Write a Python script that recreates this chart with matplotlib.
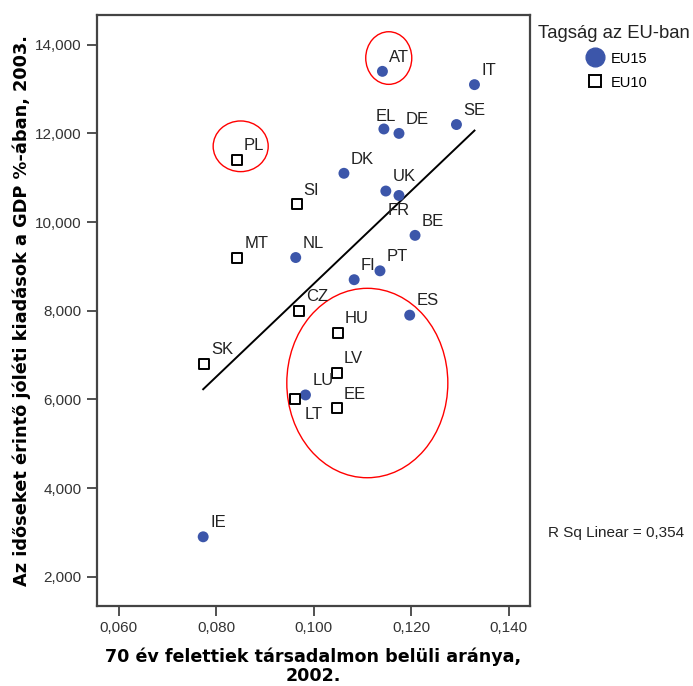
import matplotlib
matplotlib.use("Agg")
import matplotlib.pyplot as plt
from matplotlib.patches import Ellipse
from matplotlib.lines import Line2D
from matplotlib.ticker import FixedLocator, FuncFormatter
import numpy as np

# ---- data ----
eu15_codes = ["AT", "IT", "EL", "DE", "SE", "DK", "UK", "FR", "BE", "NL", "PT", "FI", "ES", "LU", "IE"]
eu15_x = [0.1141, 0.1330, 0.1144, 0.1175, 0.1293, 0.1062, 0.1148, 0.1175, 0.1208, 0.0963, 0.1136, 0.1083, 0.1197, 0.0983, 0.0773]
eu15_y = [13.4, 13.1, 12.1, 12.0, 12.2, 11.1, 10.7, 10.6, 9.7, 9.2, 8.9, 8.7, 7.9, 6.1, 2.9]

eu10_codes = ["PL", "SI", "MT", "CZ", "HU", "SK", "LV", "LT", "EE"]
eu10_x = [0.0842, 0.0965, 0.0843, 0.0970, 0.1049, 0.0775, 0.1047, 0.0962, 0.1047]
eu10_y = [11.4, 10.4, 9.2, 8.0, 7.5, 6.8, 6.6, 6.0, 5.8]

x_ticks = [0.060, 0.080, 0.100, 0.120, 0.140]
y_ticks = [2.0, 4.0, 6.0, 8.0, 10.0, 12.0, 14.0]

# annotation ellipses (center x, center y, width, height)
ell_cx = [0.1154, 0.0850, 0.1110]
ell_cy = [13.70, 11.709, 6.369]
ell_w = [0.00945, 0.0113, 0.03306]
ell_h = [1.187, 1.143, 4.273]

r2_text = "R Sq Linear = 0,354"

# ---- figure ----
fig = plt.figure(figsize=(6.93, 6.86), dpi=100)
ax = fig.add_axes([97/693, 80/686, 433/693, 591/686])

blue = "#3C56AA"
ax.scatter(eu15_x, eu15_y, s=62, color=blue, edgecolors="none", zorder=3)
ax.scatter(eu10_x, eu10_y, s=62, marker="s", facecolors="white",
           edgecolors="black", linewidths=1.4, zorder=3)

# regression line
all_x = np.array(eu15_x + eu10_x)
all_y = np.array(eu15_y + eu10_y)
b, a = np.polyfit(all_x, all_y, 1)
xl = np.array([all_x.min(), all_x.max()])
ax.plot(xl, a + b * xl, color="black", lw=1.4, zorder=2)

# point labels
special = {"FR": ((-8, -5.5), "top"), "LT": ((6.5, -5.5), "top"), "EL": ((-5.8, 6.0), "baseline")}
for codes, xs, ys in [(eu15_codes, eu15_x, eu15_y), (eu10_codes, eu10_x, eu10_y)]:
    for c, x, y in zip(codes, xs, ys):
        off, va = special.get(c, ((5, 7), "baseline"))
        ax.annotate(c, (x, y), xytext=off, textcoords="offset points",
                    ha="left", va=va, fontsize=12, family="Liberation Sans",
                    color="#222222", zorder=4)

for cx, cy, w, h in zip(ell_cx, ell_cy, ell_w, ell_h):
    ax.add_patch(Ellipse((cx, cy), w, h, fill=False, edgecolor="red", lw=1.0, zorder=2))

ax.set_xlim(0.0555, 0.1444)
ax.set_ylim(1.339, 14.671)
ax.xaxis.set_major_locator(FixedLocator(x_ticks))
ax.yaxis.set_major_locator(FixedLocator(y_ticks))
fmt = FuncFormatter(lambda v, p: f"{v:,.3f}".replace(".", ","))
ax.xaxis.set_major_formatter(fmt)
ax.yaxis.set_major_formatter(fmt)
for lab in ax.get_xticklabels() + ax.get_yticklabels():
    lab.set_family("Liberation Sans")
    lab.set_fontsize(11)
    lab.set_color("#333333")
ax.tick_params(direction="out", length=7, width=1.2, color="#333333", pad=4)

for sp in ax.spines.values():
    sp.set_linewidth(1.6)
    sp.set_color("#444444")

ax.set_xlabel("70 év felettiek társadalmon belüli aránya,\n2002.",
              fontsize=12.6, fontweight="bold", family="DejaVu Sans", labelpad=9,
              linespacing=1.05)
ax.set_ylabel("Az időseket érintő jóléti kiadások a GDP %-ában, 2003.",
              fontsize=12.8, fontweight="bold", family="DejaVu Sans", labelpad=3)

# legend
handles = [
    Line2D([], [], marker="o", linestyle="none", markersize=13.5,
           markerfacecolor=blue, markeredgecolor=blue),
    Line2D([], [], marker="s", linestyle="none", markersize=9,
           markerfacecolor="white", markeredgecolor="black", markeredgewidth=1.4),
]
leg = fig.legend(handles, ["EU15", "EU10"], loc="upper left",
                 bbox_to_anchor=(528/693, 1 - 15/686), frameon=False,
                 title="Tagság az EU-ban",
                 prop={"family": "Liberation Sans", "size": 10.5},
                 handletextpad=0.1, labelspacing=0.55, handleheight=1.3,
                 borderpad=0.2)
leg.get_title().set_fontsize(13.3)
leg.get_title().set_family("Liberation Sans")
leg.get_title().set_color("#222222")
leg._legend_box.sep = 6

fig.text(548/693, 1 - 533/686, r2_text, ha="left", va="center",
         fontsize=11, family="Liberation Sans", color="#222222")

fig.savefig("out.png", dpi=100)
